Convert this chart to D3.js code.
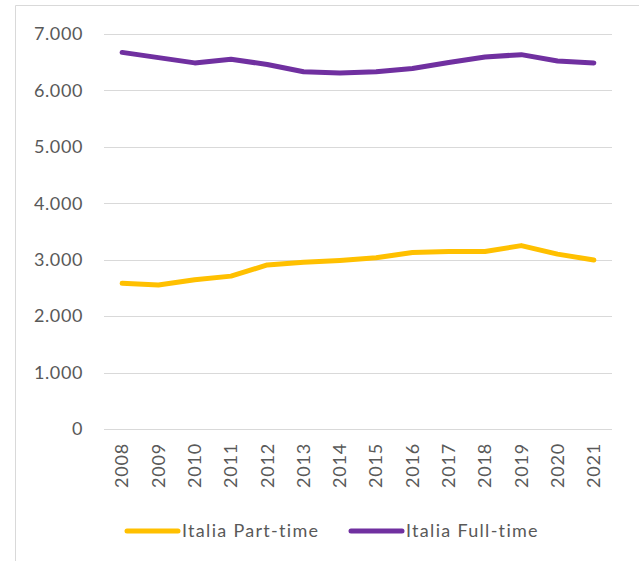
<!DOCTYPE html>
<html>
<head>
<meta charset="utf-8">
<script src="https://cdn.jsdelivr.net/npm/d3@7"></script>
<style>
  html, body { margin: 0; padding: 0; background: #fff; }
  svg { display: block; }
</style>
</head>
<body>
<svg id="chart" width="639" height="561"></svg>
<script>
const years = ["2008","2009","2010","2011","2012","2013","2014","2015","2016","2017","2018","2019","2020","2021"];
const partTime = [2581, 2552, 2645, 2709, 2907, 2953, 2988, 3035, 3128, 3145, 3145, 3250, 3099, 2994];
const fullTime = [6674, 6581, 6488, 6552, 6460, 6331, 6308, 6331, 6390, 6494, 6593, 6634, 6523, 6488];
const yTicks = [0, 1000, 2000, 3000, 4000, 5000, 6000, 7000];
const seriesNames = ["Italia Part-time", "Italia Full-time"];
const seriesColors = ["#FFC000", "#7030A0"];

const svg = d3.select("#chart");
const font = "Lato, 'Open Sans', sans-serif";
const textColor = "#595959";

// outer border (top + left)
svg.append("path")
  .attr("d", "M15.5,561 L15.5,5.5 L639,5.5")
  .attr("fill", "none").attr("stroke", "#d9d9d9").attr("stroke-width", 1);

const x = d3.scaleBand().domain(years).range([104, 612]);
const y = d3.scaleLinear().domain([0, 7000]).range([429, 34]);

const fmt = d => d === 0 ? "0" : d3.format(",")(d).replace(/,/g, ".");

// grid
svg.append("g").selectAll("line").data(yTicks).join("line")
  .attr("x1", 104).attr("x2", 612)
  .attr("y1", d => Math.round(y(d)) + 0.5).attr("y2", d => Math.round(y(d)) + 0.5)
  .attr("stroke", "#d9d9d9").attr("stroke-width", 1);

// y axis labels
const yAxis = d3.axisLeft(y).tickValues(yTicks).tickFormat(fmt).tickSize(0).tickPadding(0);
const gy = svg.append("g").attr("transform", "translate(83,0)").call(yAxis);
gy.select(".domain").remove();
gy.selectAll("text").attr("font-family", font).attr("font-size", 18)
  .attr("letter-spacing", 0.6).attr("fill", textColor);

// x axis labels
const xAxis = d3.axisBottom(x).tickSize(0).tickPadding(0);
const gx = svg.append("g").attr("transform", "translate(0,429)").call(xAxis);
gx.select(".domain").remove();
gx.selectAll("text")
  .attr("font-family", font).attr("font-size", 18).attr("letter-spacing", 0.8).attr("fill", textColor)
  .attr("transform", "rotate(-90)")
  .attr("text-anchor", "end")
  .attr("x", -14).attr("y", 0).attr("dy", "0.35em");

// lines
const line = d3.line().x((d, i) => x(years[i]) + x.bandwidth() / 2).y(d => y(d));
[partTime, fullTime].forEach((vals, i) => {
  svg.append("path").datum(vals)
    .attr("d", line)
    .attr("fill", "none")
    .attr("stroke", seriesColors[i])
    .attr("stroke-width", 5)
    .attr("stroke-linecap", "round")
    .attr("stroke-linejoin", "round");
});

// legend
const legendX = [127, 351];
seriesNames.forEach((name, i) => {
  const g = svg.append("g").attr("transform", `translate(${legendX[i]},531)`);
  g.append("line").attr("x1", 0).attr("x2", 51).attr("y1", 0).attr("y2", 0)
    .attr("stroke", seriesColors[i]).attr("stroke-width", 5).attr("stroke-linecap", "round");
  g.append("text").attr("x", 55).attr("y", 0).attr("dy", "0.35em")
    .attr("font-family", font).attr("font-size", 18).attr("letter-spacing", 1.3).attr("fill", textColor)
    .text(name);
});
</script>
</body>
</html>
